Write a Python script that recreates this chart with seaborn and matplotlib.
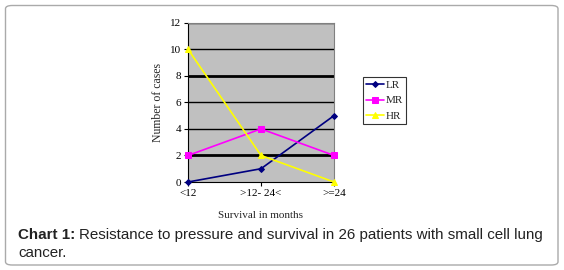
import pandas as pd
import matplotlib.pyplot as plt
import seaborn as sns
from matplotlib.patches import FancyBboxPatch

# data
categories = ['<12', '>12- 24<', '>=24']
lr = [0, 1, 5]
mr = [2, 4, 2]
hr = [10, 2, 0]

df = pd.DataFrame({'Survival': categories * 3,
                   'cases': lr + mr + hr,
                   'group': ['LR'] * 3 + ['MR'] * 3 + ['HR'] * 3})
df['x'] = [0, 1, 2] * 3

sns.set_style('white')
plt.rcParams['font.family'] = ['Liberation Serif', 'DejaVu Serif']

fig = plt.figure(figsize=(5.64, 2.7), dpi=100)
ax = fig.add_axes([188 / 564, 1 - 182 / 270, (334 - 188) / 564, (182 - 22.7) / 270])

colors = {'LR': '#000080', 'MR': '#ff00ff', 'HR': '#ffff00'}
markers = {'LR': 'D', 'MR': 's', 'HR': '^'}
sizes = {'LR': 3, 'MR': 5, 'HR': 5}

ax.set_facecolor('#c0c0c0')
for y in [2, 4, 6, 8, 10, 12]:
    ax.axhline(y, color='black', lw=2.0 if y in (2, 8) else 1.0, zorder=1)

for g in ['LR', 'MR', 'HR']:
    sub = df[df['group'] == g]
    sns.lineplot(data=sub, x='x', y='cases', ax=ax, color=colors[g], lw=1.2,
                 marker=markers[g], markersize=sizes[g], markeredgecolor=colors[g],
                 label=g, zorder=3, clip_on=False)

ax.set_xlim(0, 2)
ax.set_ylim(0, 12)
ax.set_xticks([0, 1, 2])
ax.set_xticklabels(categories)
ax.set_yticks(range(0, 13, 2))
ax.tick_params(axis='both', labelsize=8, length=3, width=0.8, direction='out',
               colors='black', pad=2)
ax.tick_params(axis='both', bottom=True, left=True)
for s in ax.spines.values():
    s.set_color('#808080')
    s.set_linewidth(0.8)
ax.spines['left'].set_color('black')
ax.spines['bottom'].set_color('black')

ax.set_xlabel('')
ax.set_ylabel('Number of cases', fontsize=8.5, labelpad=4)
fig.text(260 / 564, 1 - 215 / 270, 'Survival in months', fontsize=8,
         ha='center', va='center')

leg = ax.legend(loc='upper left', bbox_to_anchor=(363 / 564, 1 - 77 / 270),
                bbox_transform=fig.transFigure, fontsize=8, frameon=True,
                fancybox=False, handlelength=1.6, handletextpad=0.1,
                borderpad=0.3, labelspacing=0.5, borderaxespad=0)
leg.get_frame().set_edgecolor('black')
leg.get_frame().set_linewidth(0.8)

# caption: bold label, then the rest right after it
cap_size = 10.9
t1 = fig.text(18 / 564, 1 - 235 / 270, 'Chart 1:', fontsize=cap_size,
              fontweight='bold', family=['Liberation Sans'], va='center',
              color='#222222')
fig.canvas.draw()
bb = t1.get_window_extent()
fig.text(bb.x1 / 564 + 4 / 564, 1 - 235 / 270,
         'Resistance to pressure and survival in 26 patients with small cell lung',
         fontsize=cap_size, family=['Liberation Sans'], va='center', color='#222222')
fig.text(18 / 564, 1 - 253 / 270, 'cancer.', fontsize=cap_size,
         family=['Liberation Sans'], va='center', color='#222222')

# rounded frame
frame = FancyBboxPatch((5.5 / 564, 1 - 265 / 270), (558 - 5.5) / 564, (265 - 5.5) / 270,
                       boxstyle='round,pad=0,rounding_size=0.012',
                       transform=fig.transFigure, fill=False,
                       edgecolor='#aaaaaa', lw=1.0)
fig.patches.append(frame)

fig.savefig('out.png', dpi=100)
